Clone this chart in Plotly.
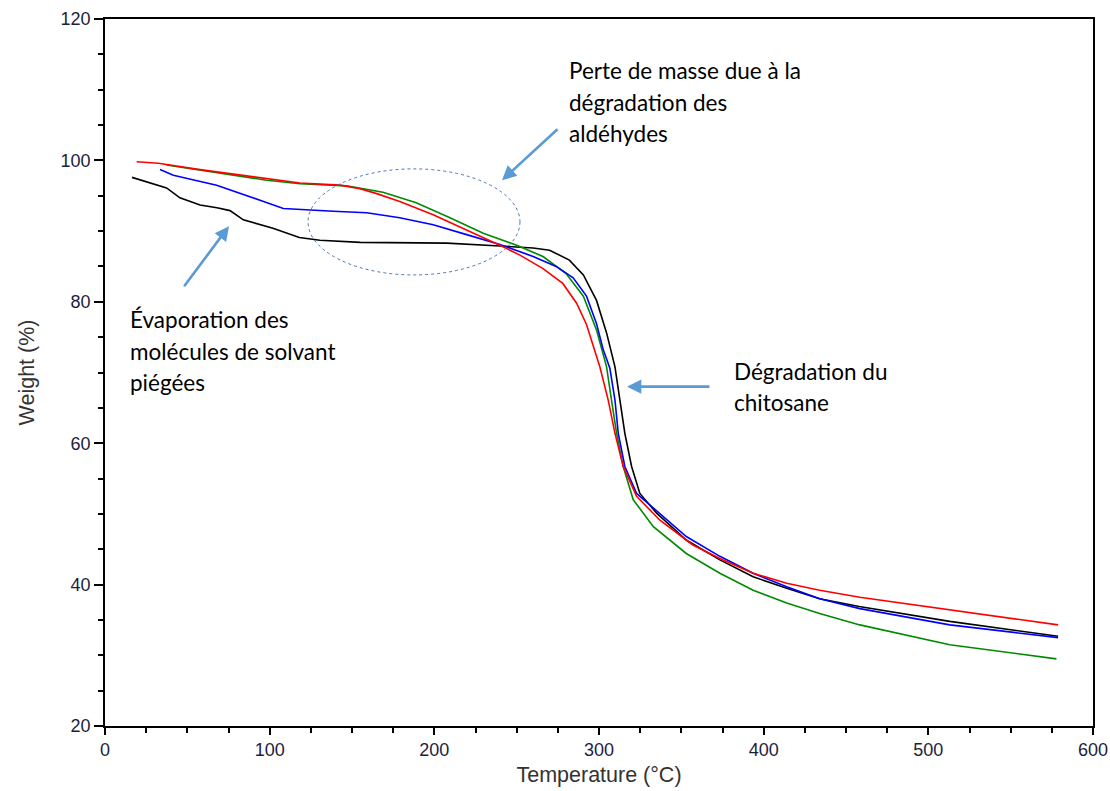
import plotly.graph_objects as go

# ---- data ----
black_T = [16.4, 25, 37.4, 45.5, 57.7, 68, 75.9, 84, 102, 118, 130.5, 155, 207.5, 240, 260, 270, 282,
           290.5, 298.5, 304.6, 309.7, 312.7, 315.7, 319.8, 324.8, 335, 353, 373.4, 393.6, 414, 434,
           458, 513, 578.8]
black_W = [97.6, 97.0, 96.1, 94.7, 93.7, 93.3, 92.9, 91.6, 90.4, 89.1, 88.7, 88.4, 88.3, 87.9, 87.6,
           87.3, 85.9, 83.8, 80.2, 75.6, 70.8, 66.1, 61.4, 56.7, 52.9, 50.1, 46.3, 43.5, 41.1, 39.5,
           38.0, 36.9, 34.8, 32.7]

red_T = [19.2, 32.4, 57.7, 88, 118.4, 142.7, 154.8, 165, 179, 199.3, 219.6, 239.8, 252, 266, 278,
         286.4, 292.4, 296, 300.5, 305.6, 309.7, 314.7, 322.8, 337, 357, 373.4, 393.6, 414, 434,
         458.4, 513, 578.8]
red_W = [99.8, 99.6, 98.7, 97.7, 96.8, 96.5, 96.0, 95.3, 94.2, 92.3, 90.2, 88.0, 86.6, 84.7, 82.6,
         79.8, 76.8, 74.0, 70.8, 66.1, 61.4, 56.7, 52.5, 49.1, 45.6, 43.7, 41.6, 40.2, 39.2, 38.2,
         36.4, 34.3]

green_T = [37.4, 50, 67.8, 98.2, 118.4, 146.7, 168.8, 189, 209.5, 229.7, 250, 266, 280, 290.5,
           298.5, 304.6, 307.6, 310.7, 314.7, 320.8, 333, 353, 373.4, 393.6, 414, 434, 458.4, 513,
           577.8]
green_W = [99.35, 98.9, 98.2, 97.2, 96.7, 96.4, 95.5, 94.0, 91.9, 89.7, 88.0, 86.4, 84.0, 80.8,
           76.0, 70.8, 66.1, 61.4, 56.7, 52.0, 48.2, 44.4, 41.6, 39.2, 37.4, 35.9, 34.3, 31.5, 29.5]

blue_T = [33.4, 41.5, 67.8, 88, 108.3, 138.6, 158.9, 179, 199.3, 219.6, 239.8, 260, 274, 284.3,
          292.4, 298.5, 302.6, 306.6, 309.7, 311.7, 315.7, 322.8, 335, 353, 373.4, 393.6, 414, 434,
          458.4, 513, 578.8]
blue_W = [98.7, 97.9, 96.5, 94.9, 93.2, 92.8, 92.6, 91.9, 90.9, 89.5, 88.1, 86.4, 85.0, 83.4,
          80.8, 76.9, 73.2, 70.6, 66.1, 61.4, 56.7, 52.9, 50.4, 46.8, 44.0, 41.6, 39.7, 38.0,
          36.6, 34.3, 32.5]

x_ticks = [0, 100, 200, 300, 400, 500, 600]
y_ticks = [20, 40, 60, 80, 100, 120]

ann_top = ["Perte de masse due à la", "dégradation des", "aldéhydes"]
ann_left = ["Évaporation des", "molécules de solvant", "piégées"]
ann_right = ["Dégradation du", "chitosane"]

# ---- figure ----
fig = go.Figure()
for T, W, c in [(black_T, black_W, "#000000"), (green_T, green_W, "#008a00"),
                (blue_T, blue_W, "#0000ff"), (red_T, red_W, "#ff0000")]:
    fig.add_trace(go.Scatter(x=T, y=W, mode="lines", line=dict(color=c, width=1.6),
                             showlegend=False, hoverinfo="skip"))

# dotted ellipse
fig.add_shape(type="circle", xref="x", yref="y", x0=123.3, x1=252, y0=83.8, y1=98.8,
              line=dict(color="#4a78ad", width=1, dash="dot"))

# arrows
arrow_style = dict(showarrow=True, arrowhead=2, arrowsize=1.1, arrowwidth=2.6,
                   arrowcolor="#5b9bd5", axref="x", ayref="y", xref="x", yref="y", text="")
fig.add_annotation(x=241.1, y=97.2, ax=275.7, ay=104.6, **arrow_style)
fig.add_annotation(x=75.3, y=90.7, ax=47.4, ay=82.0, **arrow_style)
fig.add_annotation(x=317.0, y=68.0, ax=368.0, ay=68.0, **arrow_style)

txt_font = dict(family="Lato, 'Open Sans', sans-serif", size=22.5, color="#000000")
for line, yy in zip(ann_top, [112.7, 108.2, 103.8]):
    fig.add_annotation(x=280.6, y=yy, xref="x", yref="y", text=line, showarrow=False,
                       xanchor="left", yanchor="middle", font=txt_font)
for line, yy in zip(ann_left, [77.5, 73.0, 68.6]):
    fig.add_annotation(x=14.0, y=yy, xref="x", yref="y", text=line, showarrow=False,
                       xanchor="left", yanchor="middle", font=txt_font)
for line, yy in zip(ann_right, [70.2, 65.8]):
    fig.add_annotation(x=380.8, y=yy, xref="x", yref="y", text=line, showarrow=False,
                       xanchor="left", yanchor="middle", font=txt_font)

axis_font = dict(family="Liberation Sans, Arial, sans-serif", size=18, color="#1e1e3c")
title_font = dict(family="Liberation Sans, Arial, sans-serif", size=21.5, color="#333333")
fig.update_xaxes(range=[0, 600], tickvals=x_ticks, ticktext=[str(v) for v in x_ticks],
                 showgrid=False, zeroline=False, showline=True, linecolor="#000000", linewidth=1.5,
                 mirror=True, ticks="outside", ticklen=7, tickwidth=1.5, tickcolor="#000000",
                 tickfont=axis_font, automargin=False,
                 minor=dict(dtick=25, ticks="outside", ticklen=5, tickwidth=1.5, tickcolor="#000000"),
                 title=dict(text="Temperature (°C)", font=title_font, standoff=8))
fig.update_yaxes(range=[20, 120], tickvals=y_ticks, ticktext=[str(v) for v in y_ticks],
                 showgrid=False, zeroline=False, showline=True, linecolor="#000000", linewidth=1.5,
                 mirror=True, ticks="outside", ticklen=9, tickwidth=1.5, tickcolor="#000000",
                 tickfont=axis_font, automargin=False,
                 minor=dict(dtick=5, ticks="outside", ticklen=5, tickwidth=1.5, tickcolor="#000000"),
                 title=dict(text="Weight (%)", font=title_font, standoff=20))

fig.update_layout(width=1110, height=791, margin=dict(l=105, r=17, t=19, b=65, autoexpand=False),
                  plot_bgcolor="white", paper_bgcolor="white")

fig.write_html("out.html")
